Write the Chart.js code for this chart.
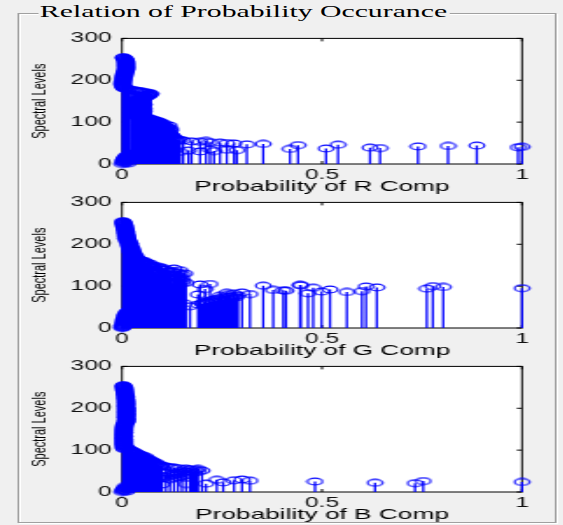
<!DOCTYPE html>
<html>
<head>
<meta charset="utf-8">
<script src="https://cdn.jsdelivr.net/npm/chart.js@4"></script>
<style>
html,body{margin:0;padding:0;background:#f0f0f0;width:563px;height:525px;overflow:hidden;}
#stretch{position:absolute;left:0;top:0;width:321.7px;height:525px;transform:scaleX(1.75);transform-origin:0 0;}
#box{position:absolute;left:10px;top:12.5px;width:306px;height:508px;border:1px solid #a0a0a0;box-shadow:inset 1px 1px 0 #ffffff,1px 1px 0 #ffffff;}
#title{position:absolute;left:21.6px;top:2px;padding:0 1.2px;background:#f0f0f0;font-family:"Liberation Serif","Times New Roman",serif;font-size:17px;line-height:20px;color:#000;white-space:nowrap;}
.pane{position:absolute;left:14px;width:300px;height:172px;}
.pane canvas{display:block;}
</style>
</head>
<body>
<div id="stretch">
  <div id="box"></div>
  <div id="title">Relation of Probability Occurance</div>
  <div class="pane" style="top:24px"><canvas id="cR" width="300" height="172"></canvas></div>
  <div class="pane" style="top:188px"><canvas id="cG" width="300" height="172"></canvas></div>
  <div class="pane" style="top:352px"><canvas id="cB" width="300" height="172"></canvas></div>
</div>
<script>
// ---------------- DATA ----------------
const xTickValues = [0, 0.5, 1];
const yTickValues = [0, 100, 200, 300];
const yAxisTitle = 'Spectral Levels';
const xTitles = ['Probability of R Comp', 'Probability of G Comp', 'Probability of B Comp'];

// spectral levels (categories), shared by the three components
const levels = [
  0,1,2,3,4,5,6,7,8,9,10,11,12,13,14,15,
  16,17,18,19,20,21,22,23,24,25,26,27,28,29,30,31,
  32,33,34,35,36,37,38,39,40,41,42,43,44,45,46,47,
  48,49,50,51,52,53,54,55,56,57,58,59,60,61,62,63,
  64,65,66,67,68,69,70,71,72,73,74,75,76,77,78,79,
  80,81,82,83,84,85,86,87,88,89,90,91,92,93,94,95,
  96,97,98,99,100,101,102,103,104,105,106,107,108,109,110,111,
  112,113,114,115,116,117,118,119,120,121,122,123,124,125,126,127,
  128,129,130,131,132,133,134,135,136,137,138,139,140,141,142,143,
  144,145,146,147,148,149,150,151,152,153,154,155,156,157,158,159,
  160,161,162,163,164,165,166,167,168,169,170,171,172,173,174,175,
  176,177,178,179,180,181,182,183,184,185,186,187,188,189,190,191,
  192,193,194,195,196,197,198,199,200,201,202,203,204,205,206,207,
  208,209,210,211,212,213,214,215,216,217,218,219,220,221,222,223,
  224,225,226,227,228,229,230,231,232,233,234,235,236,237,238,239,
  240,241,242,243,244,245,246,247,248,249,250,251,252,253,254,255];

// normalised probability of each level, R component
const rProb = [
  0.000,0.015,0.006,0.004,0.012,0.002,0.003,0.009,0.008,0.005,0.004,0.011,0.006,0.007,0.010,0.008,
  0.012,0.009,0.014,0.011,0.016,0.013,0.018,0.022,0.026,0.035,0.045,0.060,0.085,0.145,0.195,0.230,
  0.166,0.287,0.262,0.220,0.420,0.510,0.645,0.620,0.990,1.000,0.740,0.815,0.887,0.440,0.540,0.312,
  0.353,0.280,0.262,0.245,0.220,0.195,0.174,0.210,0.153,0.145,0.140,0.135,0.1325,0.128,0.125,0.122,
  0.130,0.118,0.124,0.115,0.125,0.119,0.112,0.121,0.120,0.109,0.108,0.117,0.118,0.106,0.113,0.111,
  0.120,0.104,0.110,0.116,0.122,0.101,0.105,0.112,0.115,0.098,0.110,0.103,0.118,0.096,0.100,0.094,
  0.105,0.091,0.098,0.088,0.095,0.084,0.090,0.080,0.085,0.078,0.075,0.072,0.070,0.066,0.060,0.058,
  0.052,0.040,0.048,0.035,0.056,0.030,0.045,0.038,0.053,0.025,0.047,0.042,0.050,0.033,0.055,0.028,
  0.047,0.044,0.050,0.036,0.054,0.031,0.046,0.041,0.050,0.027,0.048,0.039,0.052,0.034,0.055,0.037,
  0.049,0.043,0.051,0.032,0.045,0.040,0.053,0.029,0.048,0.044,0.052,0.038,0.055,0.046,0.050,0.057,
  0.060,0.058,0.063,0.066,0.065,0.068,0.070,0.067,0.072,0.069,0.062,0.058,0.050,0.045,0.040,0.034,
  0.028,0.022,0.016,0.012,0.008,0.006,0.004,0.005,0.003,0.004,0.002,0.003,0.002,0.001,0.002,0.003,
  0.001,0.002,0.003,0.002,0.001,0.002,0.003,0.004,0.002,0.003,0.002,0.004,0.003,0.005,0.004,0.003,
  0.005,0.004,0.006,0.005,0.004,0.006,0.007,0.005,0.006,0.008,0.007,0.006,0.008,0.009,0.008,0.010,
  0.009,0.011,0.010,0.012,0.009,0.011,0.010,0.012,0.011,0.009,0.012,0.010,0.011,0.009,0.012,0.010,
  0.011,0.009,0.012,0.010,0.008,0.011,0.009,0.010,0.008,0.009,0.007,0.008,0.006,0.005,0.004,0.003];

// G component
const gProb = [
  0.000,0.002,0.001,0.003,0.002,0.004,0.001,0.003,0.005,0.002,0.004,0.006,0.003,0.005,0.004,0.007,
  0.005,0.008,0.004,0.006,0.009,0.005,0.007,0.010,0.006,0.008,0.011,0.007,0.009,0.012,0.008,0.010,
  0.013,0.009,0.012,0.015,0.011,0.014,0.018,0.013,0.016,0.020,0.017,0.022,0.025,0.028,0.030,0.045,
  0.060,0.050,0.070,0.055,0.170,0.065,0.080,0.120,0.190,0.140,0.200,0.155,0.205,0.215,0.225,0.210,
  0.235,0.245,0.220,0.255,0.230,0.265,0.240,0.275,0.250,0.285,0.260,0.270,0.280,0.245,0.290,0.265,
  0.190,0.320,0.280,0.465,0.262,0.300,0.562,0.499,0.600,0.410,0.403,0.378,0.520,0.2075,0.762,1.000,
  0.478,0.637,0.803,0.610,0.777,0.353,0.447,0.445,0.195,0.220,0.150,0.125,0.160,0.105,0.140,0.115,
  0.153,0.098,0.145,0.110,0.130,0.092,0.150,0.120,0.140,0.085,0.120,0.100,0.145,0.095,0.135,0.112,
  0.150,0.088,0.1575,0.105,0.140,0.082,0.130,0.118,0.120,0.090,0.145,0.102,0.110,0.080,0.130,0.095,
  0.100,0.078,0.090,0.072,0.080,0.075,0.070,0.068,0.065,0.062,0.070,0.058,0.060,0.055,0.050,0.052,
  0.055,0.048,0.045,0.042,0.040,0.038,0.035,0.033,0.030,0.032,0.035,0.031,0.028,0.030,0.032,0.027,
  0.025,0.029,0.030,0.026,0.022,0.027,0.025,0.023,0.027,0.020,0.024,0.026,0.021,0.023,0.019,0.025,
  0.020,0.022,0.018,0.021,0.019,0.017,0.020,0.018,0.016,0.020,0.019,0.015,0.017,0.018,0.014,0.016,
  0.012,0.015,0.016,0.013,0.011,0.014,0.010,0.013,0.012,0.014,0.011,0.010,0.013,0.012,0.009,0.011,
  0.012,0.010,0.008,0.011,0.010,0.009,0.011,0.008,0.010,0.009,0.007,0.009,0.008,0.006,0.008,0.007,
  0.006,0.008,0.005,0.007,0.006,0.004,0.006,0.005,0.004,0.005,0.003,0.004,0.003,0.002,0.003,0.002];

// B component
const bProb = [
  0.000,0.012,0.003,0.008,0.002,0.005,0.015,0.004,0.010,0.006,0.018,0.008,0.012,0.020,0.015,0.010,
  0.020,0.050,0.100,0.160,0.210,0.7325,0.6325,0.253,1.000,0.4825,0.753,0.320,0.280,0.237,0.300,0.120,
  0.100,0.130,0.090,0.140,0.110,0.150,0.100,0.130,0.160,0.120,0.140,0.170,0.130,0.150,0.180,0.140,
  0.190,0.160,0.175,0.200,0.150,0.185,0.170,0.190,0.160,0.140,0.130,0.120,0.100,0.110,0.095,0.100,
  0.090,0.085,0.080,0.088,0.075,0.082,0.085,0.078,0.070,0.075,0.065,0.072,0.072,0.066,0.060,0.064,
  0.055,0.058,0.050,0.054,0.060,0.048,0.045,0.050,0.040,0.045,0.040,0.037,0.035,0.033,0.030,0.032,
  0.028,0.026,0.025,0.022,0.020,0.018,0.006,0.015,0.004,0.012,0.005,0.010,0.003,0.008,0.004,0.006,
  0.002,0.005,0.003,0.007,0.004,0.002,0.005,0.003,0.006,0.005,0.002,0.004,0.003,0.006,0.002,0.004,
  0.003,0.005,0.002,0.004,0.003,0.006,0.002,0.004,0.005,0.003,0.004,0.002,0.005,0.003,0.006,0.004,
  0.005,0.002,0.004,0.003,0.006,0.004,0.005,0.003,0.004,0.006,0.005,0.004,0.006,0.005,0.007,0.006,
  0.005,0.007,0.006,0.008,0.007,0.008,0.009,0.012,0.010,0.011,0.014,0.010,0.009,0.013,0.011,0.012,
  0.013,0.010,0.009,0.011,0.008,0.012,0.014,0.010,0.011,0.009,0.013,0.012,0.010,0.014,0.009,0.011,
  0.012,0.010,0.008,0.013,0.011,0.014,0.010,0.009,0.012,0.011,0.013,0.010,0.008,0.012,0.009,0.011,
  0.010,0.012,0.008,0.011,0.013,0.009,0.010,0.012,0.011,0.008,0.010,0.012,0.009,0.011,0.010,0.008,
  0.009,0.010,0.008,0.011,0.009,0.008,0.010,0.007,0.009,0.008,0.007,0.008,0.006,0.007,0.008,0.006,
  0.007,0.006,0.008,0.005,0.006,0.007,0.005,0.006,0.004,0.005,0.006,0.004,0.005,0.003,0.004,0.003];

// ---------------- DRAWING ----------------
const BLUE = '#0000ff';
const FONT = '"Liberation Sans", Arial, sans-serif';

// circle marker (appears as an ellipse, like the reference)
const marker = document.createElement('canvas');
marker.width = 11; marker.height = 9;
(function(){
  const c = marker.getContext('2d');
  c.strokeStyle = BLUE; c.lineWidth = 1.15;
  c.beginPath(); c.ellipse(5.5, 4.5, 4.3, 3.4, 0, 0, Math.PI * 2); c.stroke();
})();

const axesBoxPlugin = {
  id: 'axesBox',
  beforeDatasetsDraw(chart) {
    const ctx = chart.ctx, a = chart.chartArea;
    const xs = chart.scales.x, ys = chart.scales.y;
    ctx.save();
    ctx.fillStyle = '#ffffff';
    ctx.fillRect(a.left, a.top, a.right - a.left, a.bottom - a.top);
    ctx.strokeStyle = '#000000';
    ctx.lineWidth = 1;
    ctx.strokeRect(a.left, a.top, a.right - a.left, a.bottom - a.top);
    ctx.beginPath();
    xTickValues.forEach(v => {
      const px = xs.getPixelForValue(v);
      ctx.moveTo(px, a.bottom); ctx.lineTo(px, a.bottom - 3);
      ctx.moveTo(px, a.top); ctx.lineTo(px, a.top + 3);
    });
    yTickValues.forEach(v => {
      const py = ys.getPixelForValue(v);
      ctx.moveTo(a.left, py); ctx.lineTo(a.left + 3, py);
      ctx.moveTo(a.right, py); ctx.lineTo(a.right - 3, py);
    });
    ctx.stroke();
    ctx.restore();
  }
};

function makeChart(id, lv, probs, xTitle) {
  const stems = [];
  const marks = [];
  lv.forEach((l, i) => {
    stems.push({x: probs[i], y: 0}, {x: probs[i], y: l}, {x: probs[i], y: null});
    marks.push({x: probs[i], y: l});
  });
  return new Chart(document.getElementById(id), {
    type: 'scatter',
    data: {
      datasets: [
        {data: marks, showLine: false, pointStyle: marker, pointRadius: 4.5,
         borderColor: BLUE, backgroundColor: 'rgba(0,0,0,0)', clip: false, order: 0},
        {data: stems, showLine: true, spanGaps: false, borderColor: BLUE, borderWidth: 1.3,
         pointRadius: 0, pointHoverRadius: 0, clip: false, order: 1}
      ]
    },
    options: {
      responsive: false,
      animation: false,
      events: [],
      layout: {padding: {top: 12, right: 15.71, bottom: 0, left: 0}},
      plugins: {legend: {display: false}, tooltip: {enabled: false}},
      scales: {
        x: {
          type: 'linear', min: 0, max: 1,
          afterBuildTicks: s => { s.ticks = xTickValues.map(v => ({value: v})); },
          afterFit: s => { s.height = 32; },
          grid: {display: false, drawTicks: false},
          border: {display: false},
          ticks: {padding: 2.6, color: '#111', font: {family: FONT, size: 14}, maxRotation: 0,
                  callback: v => String(v)},
          title: {display: true, text: xTitle, color: '#000', font: {family: FONT, size: 15},
                  padding: {top: 0, bottom: 0}}
        },
        y: {
          type: 'linear', min: 0, max: 300,
          afterBuildTicks: s => { s.ticks = yTickValues.map(v => ({value: v})); },
          afterFit: s => { s.width = 55.71; },
          grid: {display: false, drawTicks: false},
          border: {display: false},
          ticks: {padding: 6, color: '#111', font: {family: FONT, size: 14}, callback: v => String(v)},
          title: {display: true, text: yAxisTitle, color: '#000', font: {family: FONT, size: 11},
                  padding: {top: 2.3, bottom: 0}}
        }
      }
    },
    plugins: [axesBoxPlugin]
  });
}

makeChart('cR', levels, rProb, xTitles[0]);
makeChart('cG', levels, gProb, xTitles[1]);
makeChart('cB', levels, bProb, xTitles[2]);
</script>
</body>
</html>
